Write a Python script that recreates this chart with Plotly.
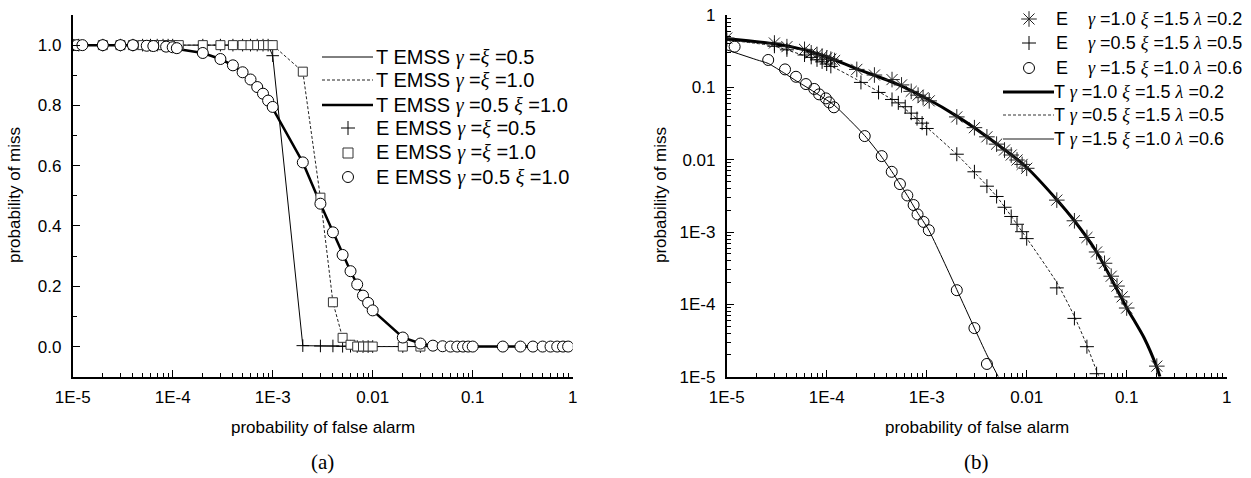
import plotly.graph_objects as go

W, H = 1251, 478

# ---------------- panel (a) data ----------------
# E EMSS gamma=xi=0.5  (plus markers)
a_e1_x = [1e-5, 1.15e-5, 2e-5, 3e-5, 4e-5, 5e-5, 6e-5, 7e-5, 8e-5, 9e-5, 1e-4, 2e-4, 3e-4, 4e-4, 5e-4, 6e-4,
          7e-4, 8e-4, 9e-4, 1e-3, 2e-3, 3e-3, 4e-3, 5e-3, 6e-3, 7e-3, 8e-3, 9e-3, 1e-2, 2e-2, 3e-2]
a_e1_y = [1.0, 1.0, 1.0, 1.0, 1.0, 1.0, 1.0, 1.0, 1.0, 1.0, 1.0, 1.0, 1.0, 1.0, 1.0, 1.0,
          1.0, 1.0, 1.0, 0.965, 0.003, 0.002, 0.002, 0.001, 0.001, 0.0, 0.0, 0.0, 0.0, 0.0, 0.0]
# E EMSS gamma=xi=1.0  (square markers)
a_e2_x = [1e-5, 2e-5, 3e-5, 4e-5, 5e-5, 6e-5, 7e-5, 8e-5, 9e-5, 1e-4, 1.15e-4, 2e-4, 3e-4, 4e-4, 5e-4, 6e-4,
          7e-4, 8e-4, 9e-4, 1e-3, 2e-3, 3e-3, 4e-3, 5e-3, 6e-3, 7e-3, 8e-3, 9e-3, 1e-2, 2e-2, 3e-2]
a_e2_y = [1.0, 1.0, 1.0, 1.0, 1.0, 1.0, 1.0, 1.0, 1.0, 1.0, 1.0, 1.0, 1.0, 1.0, 1.0, 1.0,
          1.0, 1.0, 1.0, 1.0, 0.912, 0.494, 0.147, 0.029, 0.006, 0.0, 0.0, 0.0, 0.0, 0.0, 0.0]
# E EMSS gamma=0.5 xi=1.0  (circle markers)
a_e3_x = [1e-5, 1.1e-5, 1.25e-5, 2e-5, 3e-5, 4e-5, 5.5e-5, 6.4e-5, 8.6e-5, 1e-4, 1.1e-4, 2e-4, 3e-4, 4e-4,
          5e-4, 6e-4, 7e-4, 8e-4, 9e-4, 1e-3, 2e-3, 3e-3, 4e-3, 5e-3, 6e-3, 7e-3, 8e-3, 9e-3, 1e-2,
          2e-2, 3e-2, 4e-2, 5e-2, 6e-2, 7e-2, 8e-2, 9e-2, 0.1, 0.2, 0.3, 0.4, 0.5, 0.6, 0.7, 0.8, 0.9]
a_e3_y = [1.0, 1.0, 1.0, 1.0, 1.0, 1.0, 0.998, 0.997, 0.995, 0.993, 0.99, 0.974, 0.954, 0.933,
          0.910, 0.886, 0.861, 0.839, 0.816, 0.795, 0.611, 0.474, 0.379, 0.304, 0.25, 0.206, 0.169, 0.145, 0.12,
          0.03, 0.01, 0.003, 0.001, 0.0, 0.0, 0.0, 0.0, 0.0, 0.0, 0.0, 0.0, 0.0, 0.0, 0.0, 0.0, 0.0]
# theory curves
a_t1_x = [1e-5, 1e-4, 5e-4, 9e-4, 1e-3, 2e-3, 5e-3, 1e-2, 0.1, 1.0]
a_t1_y = [1.0, 1.0, 1.0, 1.0, 0.965, 0.003, 0.001, 0.0, 0.0, 0.0]
a_t2_x = [1e-5, 1e-4, 1e-3, 2e-3, 3e-3, 4e-3, 5e-3, 6e-3, 7e-3, 1e-2, 0.1, 1.0]
a_t2_y = [1.0, 1.0, 1.0, 0.912, 0.494, 0.147, 0.029, 0.006, 0.0, 0.0, 0.0, 0.0]
a_t3_x = [1e-5, 4e-5, 1e-4, 2e-4, 3e-4, 4e-4, 5e-4, 6e-4, 7e-4, 8e-4, 9e-4, 1e-3, 2e-3, 3e-3, 4e-3,
          5e-3, 6e-3, 7e-3, 8e-3, 9e-3, 1e-2, 2e-2, 3e-2, 4e-2, 6e-2, 0.1, 1.0]
a_t3_y = [1.0, 1.0, 0.99, 0.974, 0.954, 0.933, 0.910, 0.886, 0.861, 0.839, 0.816, 0.79, 0.611, 0.474, 0.379,
          0.304, 0.25, 0.206, 0.169, 0.145, 0.12, 0.03, 0.01, 0.003, 0.0, 0.0, 0.0]

# ---------------- panel (b) data ----------------
b_e1_x = [1e-5, 3e-5, 4e-5, 6e-5, 7e-5, 8e-5, 9e-5, 1e-4, 1.1e-4, 1.2e-4, 2e-4, 3e-4, 4.5e-4, 5.6e-4, 7e-4,
          8.2e-4, 9.2e-4, 1.06e-3, 2e-3, 3e-3, 4e-3, 5e-3, 6e-3, 7e-3, 8e-3, 9e-3, 1e-2, 2e-2, 3e-2, 4e-2,
          5e-2, 6e-2, 7e-2, 8e-2, 9e-2, 0.1, 0.2]
b_e1_y = [0.48, 0.41, 0.365, 0.335, 0.30, 0.285, 0.27, 0.255, 0.245, 0.235, 0.177, 0.148, 0.128, 0.108, 0.088,
          0.078, 0.072, 0.065, 0.039, 0.0277, 0.0207, 0.0164, 0.0136, 0.0116, 0.0099, 0.0086, 0.0076, 0.00276,
          0.00143, 8.4e-4, 5.3e-4, 3.7e-4, 2.45e-4, 1.79e-4, 1.27e-4, 8.9e-5, 1.4e-5]
b_e2_x = [1e-5, 3e-5, 4e-5, 6e-5, 7e-5, 8e-5, 9e-5, 1e-4, 1.1e-4, 2.2e-4, 3.3e-4, 4.5e-4, 5.2e-4, 6.1e-4,
          7e-4, 8e-4, 9e-4, 1e-3, 2e-3, 3e-3, 4e-3, 5e-3, 6e-3, 7e-3, 8e-3, 9e-3, 1e-2, 2e-2, 3e-2, 4e-2, 5e-2]
b_e2_y = [0.45, 0.37, 0.33, 0.28, 0.26, 0.24, 0.225, 0.21, 0.195, 0.117, 0.085, 0.068, 0.061, 0.054,
          0.044, 0.037, 0.032, 0.027, 0.0119, 0.0068, 0.0043, 0.0031, 0.0022, 0.00164, 0.00128, 0.00101,
          8.1e-4, 1.69e-4, 6.4e-5, 2.6e-5, 1.1e-5]
b_e3_x = [1.2e-5, 2.6e-5, 3.83e-5, 4.93e-5, 6.2e-5, 7.5e-5, 8.4e-5, 9.8e-5, 1.06e-4, 1.18e-4, 2.4e-4, 3.55e-4,
          4.47e-4, 5.4e-4, 6.4e-4, 7.4e-4, 8.1e-4, 9.3e-4, 1.05e-3, 2e-3, 3e-3, 4e-3]
b_e3_y = [0.365, 0.239, 0.177, 0.14, 0.111, 0.095, 0.080, 0.0704, 0.062, 0.053, 0.0212, 0.0112,
          0.0068, 0.0046, 0.0032, 0.00236, 0.00175, 0.00138, 0.00106, 1.57e-4, 4.7e-5, 1.5e-5]
b_t1_x = [1e-5, 3e-5, 6e-5, 1e-4, 2e-4, 5e-4, 1e-3, 2e-3, 5e-3, 1e-2, 2e-2, 3e-2, 5e-2, 0.1, 0.15, 0.2, 0.215]
b_t1_y = [0.47, 0.40, 0.33, 0.265, 0.18, 0.112, 0.07, 0.040, 0.0166, 0.0078, 0.0028, 0.00143, 5.3e-4,
          9e-5, 3.4e-5, 1.35e-5, 1e-5]
b_t2_x = [1e-5, 3e-5, 1e-4, 2e-4, 5e-4, 1e-3, 2e-3, 5e-3, 1e-2, 2e-2, 3e-2, 4e-2, 5e-2, 5.3e-2]
b_t2_y = [0.45, 0.37, 0.21, 0.128, 0.062, 0.028, 0.0118, 0.0031, 8.2e-4, 2.0e-4, 6.8e-5, 2.7e-5, 1.2e-5, 1e-5]
b_t3_x = [1e-5, 2e-5, 2.6e-5, 3.8e-5, 5e-5, 6.2e-5, 8.4e-5, 1.2e-4, 2.4e-4, 3.5e-4, 4.5e-4, 5.4e-4, 6.4e-4,
          8e-4, 1.05e-3, 2e-3, 3e-3, 4e-3, 5.2e-3]
b_t3_y = [0.33, 0.24, 0.214, 0.156, 0.122, 0.102, 0.078, 0.056, 0.0215, 0.0112, 0.0068, 0.0046, 0.0032,
          0.0019, 0.00106, 1.6e-4, 4.7e-5, 2e-5, 1e-5]

x_tickvals = [1e-5, 1e-4, 1e-3, 1e-2, 1e-1, 1]
x_ticktext = ["1E-5", "1E-4", "1E-3", "0.01", "0.1", "1"]
b_y_tickvals = [1e-5, 1e-4, 1e-3, 1e-2, 1e-1, 1]
b_y_ticktext = ["1E-5", "1E-4", "1E-3", "0.01", "0.1", "1"]
a_y_tickvals = [0.0, 0.2, 0.4, 0.6, 0.8, 1.0]
a_y_ticktext = ["0.0", "0.2", "0.4", "0.6", "0.8", "1.0"]

SANS = "Liberation Sans, Arial, sans-serif"
SERIF = "Liberation Serif, Times New Roman, serif"


def g(ch):
    return "<span style='font-family:Liberation Serif;font-style:italic'>" + ch + "</span>"


fig = go.Figure()

# panel (a)
fig.add_trace(go.Scatter(x=a_t1_x, y=a_t1_y, mode="lines", line=dict(color="black", width=1),
                         xaxis="x", yaxis="y", showlegend=False))
fig.add_trace(go.Scatter(x=a_t2_x, y=a_t2_y, mode="lines", line=dict(color="#222", width=1, dash="3px,2px"),
                         xaxis="x", yaxis="y", showlegend=False))
fig.add_trace(go.Scatter(x=a_t3_x, y=a_t3_y, mode="lines", line=dict(color="black", width=2.5),
                         xaxis="x", yaxis="y", showlegend=False))
fig.add_trace(go.Scatter(x=a_e1_x, y=a_e1_y, mode="markers",
                         marker=dict(symbol="cross-thin-open", size=9, color="black", line=dict(color="black", width=1)),
                         xaxis="x", yaxis="y", showlegend=False))
fig.add_trace(go.Scatter(x=a_e2_x, y=a_e2_y, mode="markers",
                         marker=dict(symbol="square", size=9, color="white", line=dict(color="#333", width=1)),
                         xaxis="x", yaxis="y", showlegend=False))
fig.add_trace(go.Scatter(x=a_e3_x, y=a_e3_y, mode="markers",
                         marker=dict(symbol="circle", size=11, color="white", line=dict(color="black", width=1)),
                         xaxis="x", yaxis="y", showlegend=False))

# panel (b)
fig.add_trace(go.Scatter(x=b_t1_x, y=b_t1_y, mode="lines", line=dict(color="black", width=3, shape="spline", smoothing=0.6),
                         xaxis="x2", yaxis="y2", showlegend=False))
fig.add_trace(go.Scatter(x=b_t2_x, y=b_t2_y, mode="lines",
                         line=dict(color="#222", width=1, dash="3px,2px", shape="spline", smoothing=0.6),
                         xaxis="x2", yaxis="y2", showlegend=False))
fig.add_trace(go.Scatter(x=b_t3_x, y=b_t3_y, mode="lines", line=dict(color="black", width=1, shape="spline", smoothing=0.6),
                         xaxis="x2", yaxis="y2", showlegend=False))
fig.add_trace(go.Scatter(x=b_e1_x, y=b_e1_y, mode="markers",
                         marker=dict(symbol="asterisk-open", size=13, color="#222", line=dict(color="#222", width=1)),
                         xaxis="x2", yaxis="y2", showlegend=False))
fig.add_trace(go.Scatter(x=b_e2_x, y=b_e2_y, mode="markers",
                         marker=dict(symbol="cross-thin-open", size=10, color="black", line=dict(color="black", width=1)),
                         xaxis="x2", yaxis="y2", showlegend=False))
fig.add_trace(go.Scatter(x=b_e3_x, y=b_e3_y, mode="markers",
                         marker=dict(symbol="circle-open", size=11, color="black", line=dict(color="black", width=1)),
                         xaxis="x2", yaxis="y2", showlegend=False))

# ---- legend keys (pixel overlay axes) ----
leg_a_rows = [57, 80, 105, 128, 153, 177]
leg_b_rows = [19, 43, 68, 92, 115, 139]
leg_a_key_x = 348
leg_b_key_x = 1029
fig.add_trace(go.Scatter(x=[leg_a_key_x], y=[leg_a_rows[3]], mode="markers",
                         marker=dict(symbol="cross-thin-open", size=10, color="black", line=dict(width=1)),
                         xaxis="x3", yaxis="y3", showlegend=False))
fig.add_trace(go.Scatter(x=[leg_a_key_x], y=[leg_a_rows[4]], mode="markers",
                         marker=dict(symbol="square-open", size=10, color="#333", line=dict(width=1)),
                         xaxis="x3", yaxis="y3", showlegend=False))
fig.add_trace(go.Scatter(x=[leg_a_key_x], y=[leg_a_rows[5]], mode="markers",
                         marker=dict(symbol="circle-open", size=11, color="black", line=dict(width=1)),
                         xaxis="x3", yaxis="y3", showlegend=False))
fig.add_trace(go.Scatter(x=[leg_b_key_x], y=[leg_b_rows[0]], mode="markers",
                         marker=dict(symbol="asterisk-open", size=13, color="#222", line=dict(width=1)),
                         xaxis="x3", yaxis="y3", showlegend=False))
fig.add_trace(go.Scatter(x=[leg_b_key_x], y=[leg_b_rows[1]], mode="markers",
                         marker=dict(symbol="cross-thin-open", size=10, color="black", line=dict(width=1)),
                         xaxis="x3", yaxis="y3", showlegend=False))
fig.add_trace(go.Scatter(x=[leg_b_key_x], y=[leg_b_rows[2]], mode="markers",
                         marker=dict(symbol="circle-open", size=11, color="black", line=dict(width=1)),
                         xaxis="x3", yaxis="y3", showlegend=False))


def X(p):
    return p / W


def Y(p):
    return 1 - p / H


shapes = []
# legend lines panel a
shapes.append(dict(type="line", xref="paper", yref="paper", x0=X(322), x1=X(373), y0=Y(leg_a_rows[0]), y1=Y(leg_a_rows[0]),
                   line=dict(color="black", width=1)))
shapes.append(dict(type="line", xref="paper", yref="paper", x0=X(322), x1=X(373), y0=Y(leg_a_rows[1]), y1=Y(leg_a_rows[1]),
                   line=dict(color="#222", width=1, dash="3px,2px")))
shapes.append(dict(type="line", xref="paper", yref="paper", x0=X(322), x1=X(373), y0=Y(leg_a_rows[2]), y1=Y(leg_a_rows[2]),
                   line=dict(color="black", width=2.5)))
# legend lines panel b
shapes.append(dict(type="line", xref="paper", yref="paper", x0=X(1003), x1=X(1054), y0=Y(leg_b_rows[3]), y1=Y(leg_b_rows[3]),
                   line=dict(color="black", width=3)))
shapes.append(dict(type="line", xref="paper", yref="paper", x0=X(1003), x1=X(1054), y0=Y(leg_b_rows[4]), y1=Y(leg_b_rows[4]),
                   line=dict(color="#333", width=1, dash="3px,2px")))
shapes.append(dict(type="line", xref="paper", yref="paper", x0=X(1003), x1=X(1054), y0=Y(leg_b_rows[5]), y1=Y(leg_b_rows[5]),
                   line=dict(color="#666", width=1.5)))

GA, XI, LA = g("γ"), g("ξ"), g("λ")
leg_a_text = [
    "T EMSS " + GA + " =" + XI + " =0.5",
    "T EMSS " + GA + " =" + XI + " =1.0",
    "T EMSS " + GA + " =0.5 " + XI + " =1.0",
    "E EMSS " + GA + " =" + XI + " =0.5",
    "E EMSS " + GA + " =" + XI + " =1.0",
    "E EMSS " + GA + " =0.5 " + XI + " =1.0",
]
leg_b_text = [
    "E    " + GA + " =1.0 " + XI + " =1.5 " + LA + " =0.2",
    "E    " + GA + " =0.5 " + XI + " =1.5 " + LA + " =0.5",
    "E    " + GA + " =1.5 " + XI + " =1.0 " + LA + " =0.6",
    "T " + GA + " =1.0 " + XI + " =1.5 " + LA + " =0.2",
    "T " + GA + " =0.5 " + XI + " =1.5 " + LA + " =0.5",
    "T " + GA + " =1.5 " + XI + " =1.0 " + LA + " =0.6",
]
ann = []
for t, r in zip(leg_a_text, leg_a_rows):
    ann.append(dict(text=t, x=X(374), y=Y(r), xref="paper", yref="paper", xanchor="left", yanchor="middle",
                    showarrow=False, font=dict(family=SANS, size=20, color="black")))
for i, (t, r) in enumerate(zip(leg_b_text, leg_b_rows)):
    ann.append(dict(text=t, x=X(1054 if i < 3 else 1052), y=Y(r), xref="paper", yref="paper", xanchor="left",
                    yanchor="middle", showarrow=False, font=dict(family=SANS, size=18, color="black")))

# axis titles and captions
for cx in (322.7, 976.7):
    ann.append(dict(text="probability of false alarm", x=X(cx), y=Y(427), xref="paper", yref="paper",
                    xanchor="center", yanchor="middle", showarrow=False, font=dict(family=SANS, size=17, color="black")))
ann.append(dict(text="(a)", x=X(322.7), y=Y(462), xref="paper", yref="paper", xanchor="center", yanchor="middle",
                showarrow=False, font=dict(family=SERIF, size=21, color="black")))
ann.append(dict(text="(b)", x=X(976.7), y=Y(462), xref="paper", yref="paper", xanchor="center", yanchor="middle",
                showarrow=False, font=dict(family=SERIF, size=21, color="black")))
for cx in (14, 660):
    ann.append(dict(text="probability of miss", x=X(cx), y=Y(195), xref="paper", yref="paper", textangle=-90,
                    xanchor="center", yanchor="middle", showarrow=False, font=dict(family=SANS, size=17, color="black")))

minor_log = [m * 10 ** e for e in range(-5, 0) for m in range(2, 10)]

common = dict(showline=True, linecolor="black", linewidth=1.6, ticks="inside", ticklen=7, tickwidth=1,
              tickcolor="black", showgrid=False, zeroline=False, mirror=False, automargin=False,
              tickfont=dict(family=SANS, size=17, color="black"))

fig.update_layout(
    width=W, height=H, margin=dict(l=0, r=0, t=0, b=0, autoexpand=False),
    paper_bgcolor="white", plot_bgcolor="rgba(0,0,0,0)", showlegend=False,
    xaxis=dict(domain=[X(72.7), X(572.7)], type="log", range=[-5, 0], anchor="y",
               tickvals=x_tickvals, ticktext=x_ticktext,
               minor=dict(tickvals=minor_log, ticks="inside", ticklen=4, tickcolor="black", showgrid=False),
               ticklabelstandoff=4, **common),
    yaxis=dict(domain=[Y(376.7), Y(15)], range=[-0.1, 1.1], anchor="x",
               tickvals=a_y_tickvals, ticktext=a_y_ticktext,
               minor=dict(tickvals=[-0.1, 0.1, 0.3, 0.5, 0.7, 0.9, 1.1], ticks="inside", ticklen=4,
                          tickcolor="black", showgrid=False),
               ticklabelstandoff=6, **common),
    xaxis2=dict(domain=[X(726.7), X(1226.7)], type="log", range=[-5, 0], anchor="y2",
                tickvals=x_tickvals, ticktext=x_ticktext,
                minor=dict(tickvals=minor_log, ticks="inside", ticklen=4, tickcolor="black", showgrid=False),
                ticklabelstandoff=4, **common),
    yaxis2=dict(domain=[Y(376.7), Y(15)], type="log", range=[-5, 0], anchor="x2",
                tickvals=b_y_tickvals, ticktext=b_y_ticktext,
                minor=dict(tickvals=minor_log, ticks="inside", ticklen=4, tickcolor="black", showgrid=False),
                ticklabelstandoff=6, **common),
    xaxis3=dict(domain=[0, 1], range=[0, W], visible=False, anchor="y3", automargin=False),
    yaxis3=dict(domain=[0, 1], range=[H, 0], visible=False, anchor="x3", automargin=False),
    shapes=shapes, annotations=ann,
)

fig.write_html("out.html")
